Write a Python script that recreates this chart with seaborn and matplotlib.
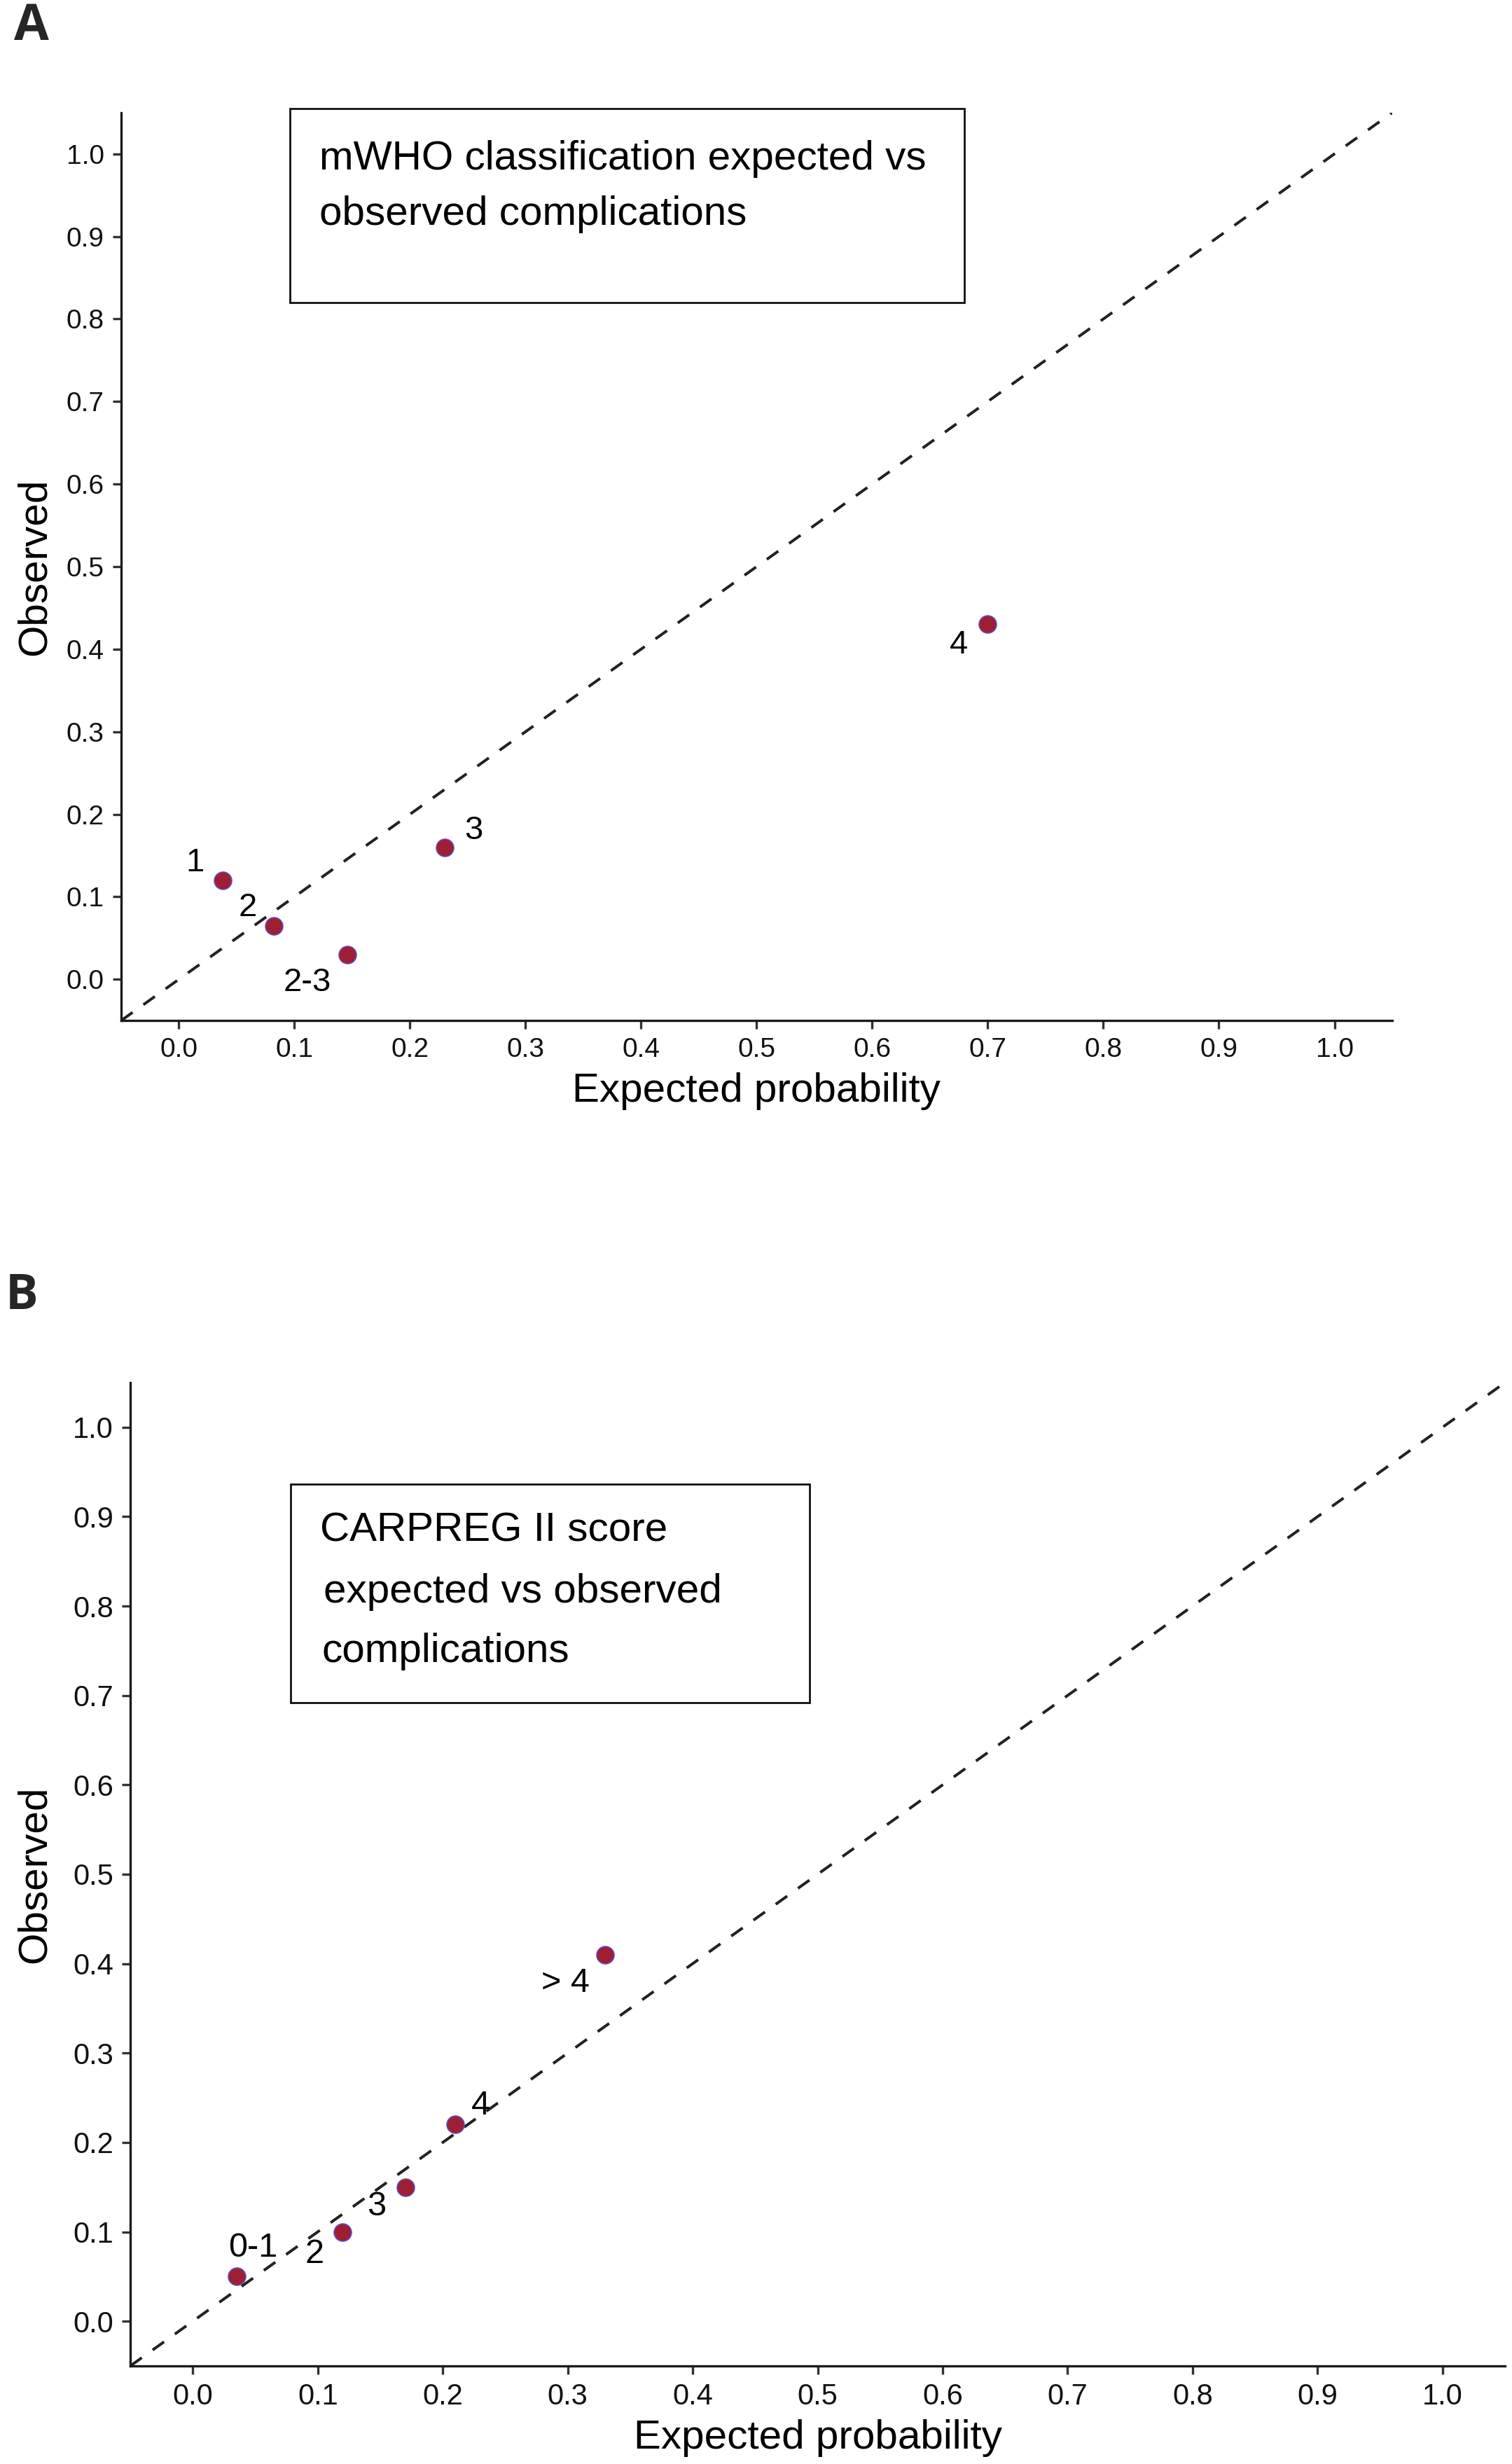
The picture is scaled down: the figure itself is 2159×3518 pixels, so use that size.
import matplotlib
matplotlib.use("Agg")
import matplotlib.pyplot as plt
import seaborn as sns
import pandas as pd
from matplotlib.patches import Rectangle

# mWHO classification (panel A)
mwho_groups = ["1", "2", "2-3", "3", "4"]
mwho_expected = [0.038, 0.082, 0.146, 0.23, 0.70]
mwho_observed = [0.12, 0.065, 0.03, 0.16, 0.43]

# CARPREG II score (panel B)
carpreg_groups = ["0-1", "2", "3", "4", "> 4"]
carpreg_expected = [0.035, 0.12, 0.17, 0.21, 0.33]
carpreg_observed = [0.05, 0.10, 0.15, 0.22, 0.41]

ticks = [0.0, 0.1, 0.2, 0.3, 0.4, 0.5, 0.6, 0.7, 0.8, 0.9, 1.0]
tick_labels = ["0.0", "0.1", "0.2", "0.3", "0.4", "0.5", "0.6", "0.7", "0.8", "0.9", "1.0"]

mwho_title = ["mWHO classification expected vs", "observed complications"]
carpreg_title = ["CARPREG II score", "expected vs observed", "complications"]

# label offsets from each point (data units)
mwho_offsets = [(-0.024, 0.021), (-0.0225, 0.022), (-0.035, -0.034), (0.025, 0.02), (-0.025, -0.025)]
carpreg_offsets = [(0.013, 0.032), (-0.0225, -0.025), (-0.023, -0.022), (0.0205, 0.021), (-0.032, -0.032)]

sns.set_theme(style="ticks")
plt.rcParams["font.family"] = ["Liberation Sans", "DejaVu Sans"]

fig = plt.figure(figsize=(21.59, 35.18), dpi=100)
ax_a = fig.add_axes([0.0801, 0.5858, 0.8407, 0.3685])
ax_b = fig.add_axes([0.0862, 0.0398, 0.9092, 0.3991])

point_color = "#9e1f33"
edge_color = "#5a5ad8"


def draw_panel(ax, groups, expected, observed, offsets, title_lines, title_y, title_x,
               box, tick_size, label_size, xlab_y, ylab_x):
    df = pd.DataFrame({"group": groups, "expected": expected, "observed": observed})
    # identity line
    ax.plot([-0.05, 1.05], [-0.05, 1.05], color="#222222", lw=2.9,
            linestyle=(0, (5.0, 4.7)), zorder=1)
    sns.scatterplot(data=df, x="expected", y="observed", ax=ax, s=330,
                    color=point_color, edgecolor=edge_color, linewidth=1.0, zorder=3)
    for g, x, y, (dx, dy) in zip(groups, expected, observed, offsets):
        ax.text(x + dx, y + dy, g, fontsize=label_size, ha="center", va="center", color="black")

    ax.set_xlim(-0.05, 1.05)
    ax.set_ylim(-0.05, 1.05)
    ax.set_xticks(ticks)
    ax.set_xticklabels(tick_labels)
    ax.set_yticks(ticks)
    ax.set_yticklabels(tick_labels)
    ax.tick_params(axis="both", labelsize=tick_size, length=8.5, width=2.4,
                   color="#333333", labelcolor="#111111", pad=9)

    sns.despine(ax=ax)
    for side in ["left", "bottom"]:
        ax.spines[side].set_linewidth(2.4)
        ax.spines[side].set_color("#1a1a1a")

    ax.set_xlabel("Expected probability", fontsize=42, color="black")
    ax.set_ylabel("Observed", fontsize=42, color="black")
    ax.xaxis.label.set_va("center")
    ax.yaxis.label.set_va("center")
    ax.xaxis.set_label_coords(0.5, xlab_y)
    ax.yaxis.set_label_coords(ylab_x, 0.5)

    # title box
    x0, x1, y0, y1 = box
    ax.add_patch(Rectangle((x0, y0), x1 - x0, y1 - y0, fill=False, edgecolor="#111111",
                           linewidth=2.0, clip_on=False, zorder=2))
    for line, ty, tx in zip(title_lines, title_y, title_x):
        ax.text(tx, ty, line, fontsize=42, ha="left", va="center", color="black", clip_on=False)


draw_panel(ax_a, mwho_groups, mwho_expected, mwho_observed, mwho_offsets,
           mwho_title, [0.994, 0.927], [0.1215, 0.1215],
           (0.096, 0.680, 0.820, 1.055), 28, 34, -0.078, -0.068)

draw_panel(ax_b, carpreg_groups, carpreg_expected, carpreg_observed, carpreg_offsets,
           carpreg_title, [0.884, 0.8157, 0.749], [0.102, 0.1045, 0.103],
           (0.078, 0.4936, 0.6916, 0.936), 30, 35, -0.0734, -0.0695)

fig.text(0.0093, 1 - 57 / 3518, "A", fontsize=52, fontweight="bold",
         family=["Open Sans", "DejaVu Sans"], ha="left", va="baseline")
fig.text(0.0035, 1 - 1869 / 3518, "B", fontsize=50, fontweight="bold",
         family=["Open Sans", "DejaVu Sans"], ha="left", va="baseline")

fig.savefig("out.png", dpi=100, facecolor="white")
